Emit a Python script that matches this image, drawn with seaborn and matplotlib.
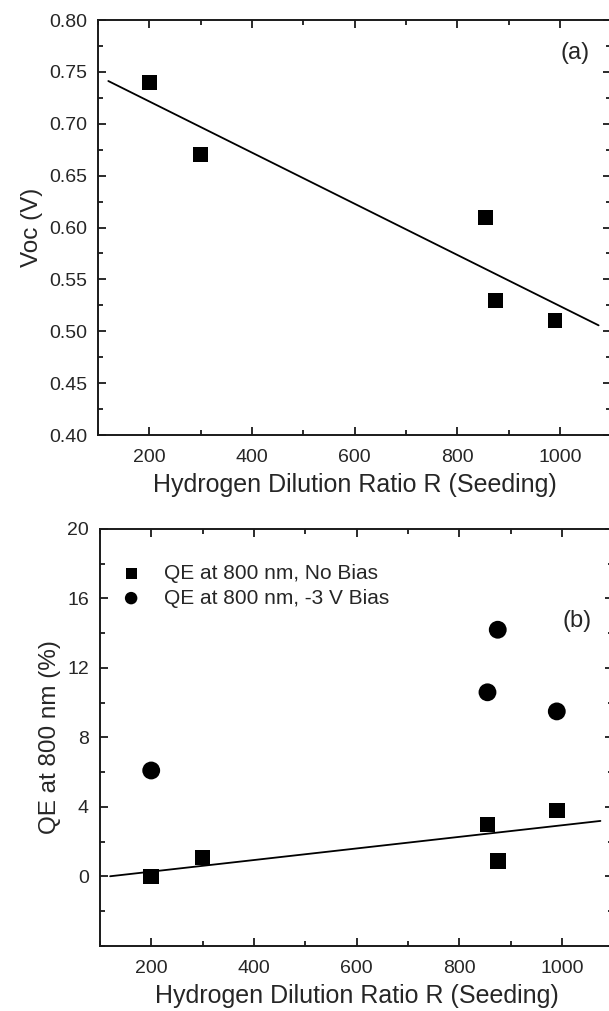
import numpy as np
import pandas as pd
import seaborn as sns
import matplotlib.pyplot as plt
from matplotlib.ticker import MultipleLocator

# data
ratio = [200, 300, 855, 875, 990]
voc = [0.74, 0.67, 0.61, 0.53, 0.51]
qe_no_bias = [0.0, 1.1, 3.0, 0.9, 3.8]
qe_bias = [6.1, None, 10.6, 14.2, 9.5]
fit_range = [120, 1075]

sns.set_style("ticks")
plt.rcParams['font.family'] = ['Liberation Sans', 'DejaVu Sans']

fig = plt.figure(figsize=(6.09, 10.11), dpi=100)
ax1 = fig.add_axes([0.161, 0.5697, 0.843, 0.4105])
ax2 = fig.add_axes([0.164, 0.0643, 0.843, 0.4125])

df = pd.DataFrame({"R": ratio, "Voc": voc, "no_bias": qe_no_bias, "bias": qe_bias})


def fit_line(ax, x, y):
    k, b = np.polyfit(x, y, 1)
    xs = np.array(fit_range)
    sns.lineplot(x=xs, y=k * xs + b, ax=ax, color="black", lw=1.3)


# (a) Voc
sns.scatterplot(data=df, x="R", y="Voc", ax=ax1, marker="s", s=115,
                color="black", edgecolor="none")
fit_line(ax1, df["R"], df["Voc"])
ax1.set_ylim(0.40, 0.80)
ax1.set_yticks(np.arange(0.40, 0.801, 0.05))
ax1.set_yticklabels([f"{v:.2f}" for v in np.arange(0.40, 0.801, 0.05)])
ax1.yaxis.set_minor_locator(MultipleLocator(0.025))
ax1.set_ylabel("Voc (V)", fontsize=17.5, labelpad=4)
ax1.text(1030, 0.768, "(a)", fontsize=17, ha="center", va="center")

# (b) QE
sns.scatterplot(data=df, x="R", y="no_bias", ax=ax2, marker="s", s=125,
                color="black", edgecolor="none", label="QE at 800 nm, No Bias")
sns.scatterplot(data=df.dropna(), x="R", y="bias", ax=ax2, marker="o", s=165,
                color="black", edgecolor="none", label="QE at 800 nm, -3 V Bias")
fit_line(ax2, df["R"], df["no_bias"])
ax2.set_ylim(-4, 20)
ax2.set_yticks([0, 4, 8, 12, 16, 20])
ax2.yaxis.set_minor_locator(MultipleLocator(2))
ax2.set_ylabel("QE at 800 nm (%)", fontsize=17.5, labelpad=4)
ax2.text(1030, 14.7, "(b)", fontsize=17, ha="center", va="center")
ax2.legend(loc="upper left", bbox_to_anchor=(0.0, 0.955), frameon=False,
           fontsize=15, handlelength=1.4, handletextpad=0.9, borderaxespad=0.4,
           labelspacing=0.25, markerscale=0.7)

for ax in (ax1, ax2):
    ax.set_xlim(100, 1100)
    ax.xaxis.set_major_locator(MultipleLocator(200))
    ax.xaxis.set_minor_locator(MultipleLocator(100))
    ax.set_xlabel("Hydrogen Dilution Ratio R (Seeding)", fontsize=18, labelpad=5)
    ax.tick_params(which="both", direction="in", top=True, right=True,
                   labelsize=14, width=1.3, color="#1a1a1a")
    ax.tick_params(which="major", length=6, pad=8)
    ax.tick_params(axis="x", which="major", pad=10)
    ax.tick_params(which="minor", length=3.5)
    for sp in ax.spines.values():
        sp.set_linewidth(1.4)
        sp.set_color("#1a1a1a")

fig.savefig("out.png", dpi=100)
